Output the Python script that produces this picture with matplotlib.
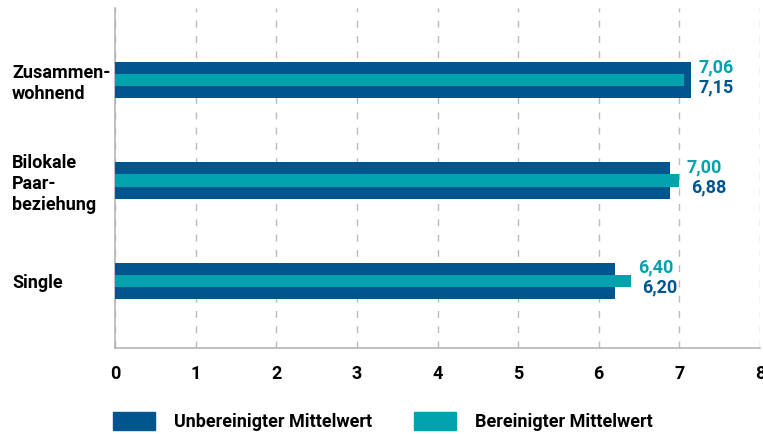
import matplotlib
matplotlib.use('Agg')
import matplotlib.pyplot as plt
import matplotlib.patches as mpatches
import numpy as np

# data (top to bottom in the picture)
categories = ['Zusammen-\nwohnend', 'Bilokale\nPaar-\nbeziehung', 'Single']
unbereinigt = [7.15, 6.88, 6.20]
bereinigt = [7.06, 7.00, 6.40]
xticks = [0, 1, 2, 3, 4, 5, 6, 7, 8]

dark = '#00558f'
teal = '#00a3ad'

plt.rcParams['font.family'] = ['Roboto', 'DejaVu Sans']
plt.rcParams['font.weight'] = 'bold'

fig = plt.figure(figsize=(7.63, 4.34), dpi=100)
ax = fig.add_axes([115/763, 1-348/434, 645/763, 340/434])

y = np.arange(len(categories))[::-1]
ax.barh(y, unbereinigt, height=0.36, color=dark, zorder=3)
ax.barh(y, bereinigt, height=0.12, color=teal, zorder=4)

def fmt(v):
    return ('%.2f' % v).replace('.', ',')

for yi, u, b in zip(y, unbereinigt, bereinigt):
    xl = max(u, b) + 0.09
    ax.text(xl, yi + 0.13, fmt(b), color=teal, fontsize=13, fontweight='bold',
            ha='left', va='center')
    ax.text(xl + (0.05 if u < b else 0), yi - 0.07, fmt(u), color=dark, fontsize=13,
            fontweight='bold', ha='left', va='center')

ax.set_xlim(0, 8)
ax.set_ylim(-0.67, 2.72)
ax.set_xticks(xticks)
ax.set_xticklabels([str(t) for t in xticks], fontsize=13, fontweight='bold')
ax.tick_params(axis='x', length=0, pad=12)
ax.set_yticks(y)
ax.set_yticklabels(categories, fontsize=13, fontweight='bold', ha='left',
                   linespacing=1.2)
ax.tick_params(axis='y', length=0, pad=74)

ax.grid(axis='x', color='#bbbbbb', linestyle=(0, (5, 6)), linewidth=1, zorder=0)
ax.set_axisbelow(True)
for s in ['top', 'right']:
    ax.spines[s].set_visible(False)
for s in ['left', 'bottom']:
    ax.spines[s].set_color('#b5b5b5')
    ax.spines[s].set_linewidth(1.2)

handles = [mpatches.Patch(color=dark, label='Unbereinigter Mittelwert'),
           mpatches.Patch(color=teal, label='Bereinigter Mittelwert')]
fig.legend(handles=handles, loc='lower left', bbox_to_anchor=(113/763, 3/434),
           ncol=2, frameon=False, fontsize=13, handlelength=2.3, handleheight=1.1,
           handletextpad=1.1, columnspacing=2.3, borderpad=0, borderaxespad=0)

fig.savefig('out.png', dpi=100)
